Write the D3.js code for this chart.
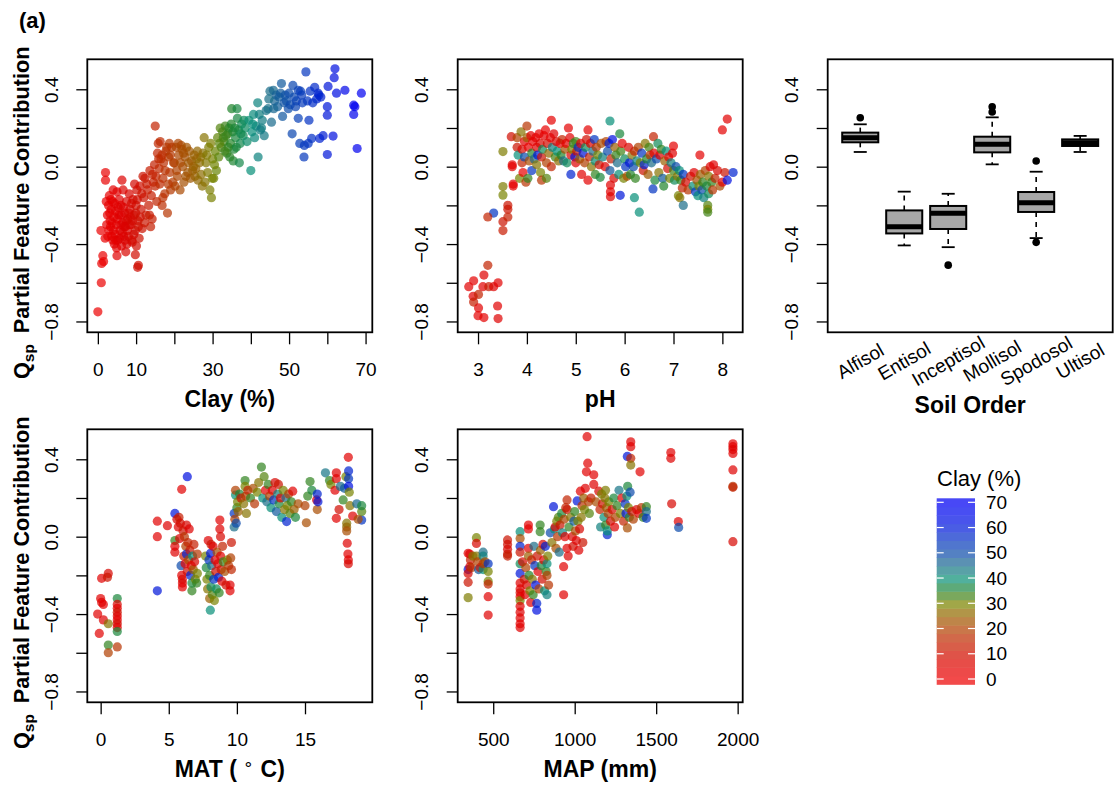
<!DOCTYPE html>
<html lang="en">
<head>
<meta charset="utf-8">
<script src="https://cdnjs.cloudflare.com/ajax/libs/d3/7.8.5/d3.min.js"></script>
<style>
body { margin: 0; background: #fff; }
text { font-family: "Liberation Sans", Arial, Helvetica, sans-serif; fill: #000; }
.tick line { stroke: #000; stroke-width: 1.3px; }
.frame { fill: none; stroke: #000; stroke-width: 1.8px; }
</style>
</head>
<body>
<svg width="1116" height="787"></svg>
<script>
// ---- data ----
var yTicks = [0.4, 0.2, 0.0, -0.2, -0.4, -0.6, -0.8];
var yLabelled = [0.4, 0.0, -0.4, -0.8];

var clayStops = [0, 5, 10, 15, 20, 25, 30, 35, 40, 45, 50, 55, 60, 65, 70];
var clayColors = ["#f24a4a", "#ea4a48", "#de5448", "#d4644a", "#c8784a", "#b88e48", "#a0a848",
                  "#62a86a", "#50b0a0", "#5e98ac", "#5480c4", "#4e70d4", "#4a5ce4", "#4850f0", "#4848f6"];
var legendTicks = [0, 10, 20, 30, 40, 50, 60, 70];

// clay (%) vs Qsp
var clayPoints = [
  [0,-0.75],[0.9,-0.6],[1,-0.5],[1.3,-0.46],[1.5,-0.49],[0.8,-0.33],[1.9,-0.37],[2,-0.03],[2,-0.07],[5,-0.46],
  [6.3,-0.07],[7.3,-0.44],[9.8,-0.455],[10.6,-0.51],[10.4,-0.52],[15,0.21],[18.2,-0.24],
  [2.5,-0.25],[2.8,-0.2],[3,-0.15],[3.2,-0.28],[3.5,-0.22],[3.3,-0.31],[2.9,-0.33],[4,-0.12],[4.2,-0.26],
  [4.5,-0.35],[4.8,-0.3],[4.3,-0.4],[5.2,-0.38],[5.5,-0.25],[5.8,-0.33],[6,-0.2],[6.2,-0.41],[6.5,-0.29],
  [6.8,-0.36],[7,-0.24],[7.2,-0.31],[7.5,-0.18],[7.8,-0.27],[8,-0.36],[8.2,-0.14],[8.4,-0.22],[8.7,-0.3],
  [9,-0.39],[9.2,-0.17],[9.5,-0.25],[9.8,-0.33],[10,-0.2],[10.2,-0.12],[10.5,-0.28],[10.8,-0.37],[11,-0.1],
  [11.3,-0.22],[11.6,-0.32],[12,-0.16],[12.3,-0.06],[12.6,-0.25],[13,-0.12],[13.3,-0.2],[13.6,-0.02],[14,-0.15],
  [14.2,-0.27],[14.5,-0.08],[14.8,0.01],[15.2,-0.05],[15.4,-0.18],[15.6,0.07],[15.8,0.12],[16,-0.01],[3.8,-0.18],
  [5,-0.13],[6,-0.3],[7.6,-0.4],[8.5,-0.26],[2.3,-0.3],[3.6,-0.36],[4.6,-0.23],[5.6,-0.17],[6.6,-0.12],[9.6,-0.09],
  [11.8,-0.05],[13.8,-0.31],[16.3,0.13],[16.5,0.04],[17,-0.06],[17.5,-0.14],[16.8,-0.2],
  [2.2,-0.18],[2.6,-0.36],[3.1,-0.24],[3.4,-0.17],[3.7,-0.29],[4.1,-0.33],[4.4,-0.19],[4.7,-0.38],[5.1,-0.27],
  [5.3,-0.21],[5.7,-0.37],[6.1,-0.25],[6.4,-0.34],[6.7,-0.21],[7.1,-0.38],[7.4,-0.28],[7.7,-0.33],[8.1,-0.24],
  [8.3,-0.3],[8.8,-0.19],[9.1,-0.28],[9.4,-0.35],[9.9,-0.24],[10.3,-0.17],[10.6,-0.31],[11.1,-0.26],[11.5,-0.14],
  [12.2,-0.29],[12.8,-0.09],[13.5,-0.25],[14.3,-0.04],[15,-0.1],[15.9,0.04],[3.9,-0.38],[4.9,-0.42],[6.9,-0.31],
  [8.9,-0.38],[10.1,-0.41],
  [17.2,0.02],[17.8,0.08],[18.5,0.05],[18.8,-0.03],[19.3,0.1],[19.6,-0.08],[20,0.02],[20.5,0.1],[20.8,-0.05],
  [21.2,0.06],[21.5,-0.12],[21.8,0.11],[22.2,0.0],[22.5,-0.08],[22.8,0.05],[23.2,0.1],[23.5,-0.03],[23.9,0.08],
  [24.2,-0.06],[24.5,0.03],[19,-0.12],[20.2,-0.1],[18,0.1],[22,0.09],[17,-0.16],
  [16.8,0.06],[17.6,-0.02],[18.4,-0.09],[19,0.06],[19.8,0.02],[20.6,-0.02],[21,0.12],[21.6,0.02],[22.4,0.07],
  [23,-0.05],[23.7,0.02],[24.8,-0.02],[16.2,-0.09],[18.7,0.12],
  [25,0.0],[25.4,-0.05],[25.8,0.04],[26.2,-0.07],[26.6,0.02],[27,-0.04],[27.5,0.07],[27.8,0.15],[28,-0.08],
  [28.3,0.02],[28.7,-0.03],[29,0.1],[29.3,-0.12],[29.7,-0.16],[30,0.04],[30.3,-0.06],[30.7,0.08],[31,-0.02],
  [29.5,0.12],[26,0.08],[25.6,-0.01],[26.9,0.05],[27.3,-0.1],[28.5,0.06],[29.9,-0.06],[30.5,0.01],[25.2,0.06],
  [31.3,0.15],[31.6,0.05],[32,0.2],[32.3,0.1],[32.6,0.18],[33,0.13],[33.3,0.21],[33.7,0.07],[34,0.17],[34.3,0.2],
  [34.7,0.12],[35,0.3],[35.3,0.18],[35.6,0.09],[36,0.15],[36.4,0.3],[36.8,0.19],[37.2,0.12],[37.6,0.22],[38,0.16],
  [38.5,0.2],[39,0.13],[35.4,0.03],[37,0.02],[36.5,0.25],[34.5,0.05],
  [31.8,0.12],[32.8,0.15],[33.5,0.16],[34.1,0.1],[34.9,0.22],[35.8,0.2],[36.2,0.1],[37.4,0.17],[38.2,0.24],[33.2,0.08],
  [39.5,0.24],[40,-0.02],[40.3,0.18],[40.7,0.27],[41,0.15],[41.4,0.21],[41.8,0.33],[41.9,0.05],[42.2,0.27],
  [42.5,0.19],[43,0.24],[43.5,0.16],[44,0.29],[40.5,0.22],[42.8,0.2],
  [44.5,0.3],[45,0.39],[45.4,0.23],[45.9,0.395],[46.2,0.34],[46.6,0.37],[47,0.31],[47.4,0.36],[48,0.43],[48.3,0.26],
  [48.7,0.33],[49.3,0.34],[49.8,0.3],[50.3,0.32],[50.8,0.17],[51,0.42],[51.3,0.36],[51.7,0.31],[52.4,0.395],
  [52.4,0.25],[52.8,0.12],[44.7,0.35],[46,0.3],[47.8,0.38],[49,0.37],[50,0.38],[51.9,0.34],
  [53.3,0.37],[53.9,0.05],[54.4,0.49],[54.8,0.34],[55.2,0.24],[55.5,0.39],[55.9,0.146],[56.7,0.41],[57.2,0.35],
  [57.6,0.38],[58,0.146],[58.3,0.36],[58.9,0.16],[60,0.063],[60,0.266],[60,0.31],[60.2,0.415],[61.5,0.158],
  [61.8,0.46],[62,0.506],[62.4,0.38],[64.6,0.395],[66.9,0.318],[66.9,0.27],[67.2,0.31],[67.8,0.094],[68.9,0.38],
  [55,0.12],[53.5,0.33],[54,0.11],[53,0.39],[56.2,0.33],[57.8,0.37]
];

// pH vs Qsp, third value = clay (%)
var phPoints = [
  [2.81,-0.62,5],[2.91,-0.59,4],[2.9,-0.67,6],[2.91,-0.7,14],[3.01,-0.66,15],[3.01,-0.73,5],[3.0,-0.77,4],
  [3.12,-0.56,6],[3.1,-0.62,5],[3.12,-0.78,4],[3.2,-0.51,15],[3.22,-0.62,13],[3.32,-0.62,6],[3.41,-0.6,5],
  [3.4,-0.72,5],[3.41,-0.785,6],
  [3.32,-0.24,55],[3.2,-0.26,15],[3.51,0.078,29],[3.51,-0.103,29],[3.51,-0.147,30],[3.51,-0.284,12],[3.51,-0.33,13],
  [3.61,-0.2,12],[3.61,-0.22,12],[3.61,-0.26,14],[3.72,-0.09,5],[3.7,0.0,5],[3.68,0.155,10],[3.7,0.01,3],[3.72,-0.1,3],
  [3.8,0.1,12],[3.8,0.15,20],[3.82,0.06,40],[3.85,-0.06,30],[3.88,0.18,28],[3.9,0.02,15],[3.9,0.09,8],[3.92,-0.03,2],
  [3.95,0.13,5],[3.95,0.05,50],[3.98,-0.08,18],[4.0,0.21,18],[4.0,0.15,25],[4.02,-0.06,34],[4.03,0.1,3],[4.05,0.03,22],
  [4.08,0.16,5],[4.1,-0.02,55],[4.1,0.07,35],[4.12,0.13,2],[4.15,0.04,45],[4.18,0.15,4],[4.2,0.1,6],[4.2,0.01,28],
  [4.22,0.06,60],[4.25,0.17,3],[4.27,0.12,8],[4.28,-0.03,30],[4.3,-0.07,18],[4.3,0.05,12],[4.32,0.09,38],[4.35,0.16,5],
  [4.38,0.19,2],[4.4,0.02,20],[4.4,-0.06,32],[4.42,0.12,10],[4.45,0.07,26],[4.48,0.15,4],[4.5,0.24,3],[4.5,0.0,15],
  [4.52,0.1,42],[4.55,0.17,6],[4.58,0.05,33],[4.6,0.13,8],[4.62,0.08,40],[4.65,0.03,27],[4.68,0.12,4],[4.7,0.06,35],
  [4.72,0.14,15],[4.75,0.03,45],[4.78,0.09,22],[4.8,0.12,3],[4.82,0.02,38],[4.85,0.2,4],[4.88,0.15,5],[4.9,-0.04,58],
  [4.9,0.06,8],[4.92,0.09,30],[4.95,0.12,34],[4.98,0.05,62],[5.0,0.02,6],[5.0,0.13,33],[5.02,0.08,12],[5.05,0.1,55],
  [5.08,0.04,25],[5.1,0.12,4],[5.12,-0.04,5],[5.15,0.07,60],[5.18,0.02,20],[5.2,0.1,38],[5.22,0.14,10],[5.25,-0.07,4],
  [5.25,0.19,4],[5.28,0.05,15],[5.3,0.12,6],[5.32,0.0,28],[5.35,0.08,45],[5.38,0.14,55],[5.4,-0.04,34],[5.4,0.03,40],
  [5.42,0.1,18],[5.45,0.06,30],[5.48,0.01,12],[5.5,-0.055,36],[5.52,0.12,22],[5.55,0.05,42],
  [5.6,0.0,6],[5.62,0.13,20],[5.65,0.08,50],[5.68,0.12,58],[5.7,0.236,40],[5.7,-0.02,48],[5.71,-0.095,5],[5.71,-0.13,4],
  [5.71,-0.155,6],[5.72,0.04,14],[5.75,0.14,62],[5.78,-0.06,8],[5.8,0.1,25],[5.82,0.06,34],[5.85,0.02,45],[5.88,-0.04,40],
  [5.9,0.17,36],[5.91,-0.148,60],[5.92,0.08,33],[5.95,0.12,4],[5.98,-0.06,30],[6.0,0.04,38],[6.02,0.0,55],[6.05,-0.05,22],
  [6.08,0.1,8],[6.1,0.02,60],[6.12,-0.04,35],[6.15,0.06,28],[6.18,0.0,50],[6.2,-0.16,40],[6.2,0.08,15],[6.22,-0.06,34],
  [6.25,0.03,42],[6.28,0.1,20],[6.3,-0.235,40],[6.32,0.02,30],[6.35,0.07,55],[6.38,-0.02,12],[6.4,0.01,58],[6.42,0.12,28],
  [6.45,0.04,35],[6.48,-0.04,24],[6.5,0.1,33],[6.52,0.06,18],[6.55,0.02,45],[6.58,-0.115,55],[6.59,0.155,15],[6.6,0.07,6],
  [6.62,-0.07,36],[6.65,0.04,50],[6.68,0.12,38],[6.7,-0.03,28],[6.72,0.06,4],[6.75,0.09,34],[6.78,-0.06,48],[6.8,-0.1,35],
  [6.82,0.03,25],[6.85,0.08,40],[6.88,-0.01,10],[6.9,0.05,5],[6.92,-0.06,30],[6.95,0.02,42],[6.98,0.07,6],[7.0,0.107,4],
  [7.0,-0.02,33],[7.02,-0.07,38],[7.05,0.0,50],[7.08,-0.05,28],[7.1,-0.15,30],[7.12,-0.02,40],[7.13,-0.16,28],
  [7.15,-0.07,34],[7.18,-0.11,15],[7.2,-0.2,45],[7.2,-0.04,55],
  [7.25,-0.08,8],[7.3,-0.12,18],[7.35,-0.05,12],[7.4,-0.1,40],[7.42,-0.03,6],[7.45,-0.13,55],[7.48,-0.07,22],
  [7.5,-0.15,40],[7.52,-0.1,30],[7.54,0.06,4],[7.55,-0.04,25],[7.58,-0.12,50],[7.6,-0.08,34],[7.62,-0.16,42],
  [7.65,-0.02,20],[7.68,-0.1,36],[7.7,-0.2,32],[7.7,-0.22,30],[7.7,-0.235,33],[7.72,-0.05,28],[7.72,-0.14,38],
  [7.75,0.0,6],[7.78,-0.08,34],[7.8,-0.12,18],[7.82,0.01,5],[7.85,-0.06,15],[7.9,-0.02,8],[7.95,-0.1,22],[8.0,0.19,4],
  [8.0,-0.08,5],[8.05,-0.03,12],[8.1,0.246,5],[8.1,-0.07,62],[8.22,-0.03,58]
];

// MAT (deg C) vs Qsp, third value = clay (%)
var matPoints = [
  [-0.22,-0.4,5],[0,-0.32,5],[0.07,-0.34,6],[0.2,-0.35,4],[-0.1,-0.5,5],[0.2,-0.43,6],[0.07,-0.215,5],[0.56,-0.19,8],
  [0.5,-0.21,12],[0.56,-0.45,28],[0.56,-0.56,34],[0.56,-0.6,20],[1.22,-0.32,36],[1.22,-0.35,8],[1.22,-0.37,5],
  [1.22,-0.39,12],[1.22,-0.41,6],[1.22,-0.43,4],[1.22,-0.45,10],[1.22,-0.47,5],[1.22,-0.49,36],[1.22,-0.57,18],
  [4.16,0.08,5],[4.16,0.0,5],[4.16,-0.28,60],[4.9,0.057,6],[5.45,0.12,60],[5.45,-0.02,34],[5.45,-0.05,5],[5.45,-0.08,6],
  [5.95,0.245,5],[6.36,0.31,62],
  [5.6,0.09,8],[5.7,0.05,5],[5.75,0.1,14],[5.8,-0.01,6],[5.85,0.07,10],[5.9,-0.15,50],[5.95,-0.2,5],[6.0,-0.24,6],
  [6.0,-0.22,8],[6.0,-0.26,4],[6.05,0.03,12],[6.1,-0.1,14],[6.15,0.0,18],[6.2,-0.14,5],[6.25,-0.05,20],[6.3,-0.09,58],
  [6.3,0.06,8],[6.35,-0.18,10],[6.4,-0.03,15],[6.45,-0.12,22],[6.5,0.04,6],[6.55,-0.07,12],[6.6,-0.2,58],[6.65,-0.15,5],
  [6.7,-0.28,34],[6.7,-0.24,36],[6.75,-0.1,40],[6.8,-0.17,24],[6.85,-0.04,14],[6.9,-0.13,8],[6.95,-0.22,30],
  [7.05,-0.24,34],[7.1,-0.19,30],[7.1,-0.09,18],
  [7.7,-0.1,30],[7.75,-0.16,36],[7.8,-0.22,30],[7.85,-0.27,28],[7.9,-0.02,6],[7.95,-0.12,55],[8.0,-0.32,25],[8.0,-0.2,34],
  [8.05,-0.38,40],[8.07,-0.086,60],[8.1,-0.04,12],[8.1,-0.26,38],[8.15,-0.15,45],[8.2,-0.3,32],[8.25,-0.05,6],
  [8.3,-0.22,55],[8.35,-0.33,30],[8.4,-0.12,5],[8.45,-0.18,10],[8.5,-0.27,38],[8.55,-0.08,22],[8.6,-0.14,5],
  [8.65,-0.21,58],[8.7,-0.29,34],[8.75,0.086,5],[8.75,0.04,6],[8.8,0.0,8],[8.8,-0.1,5],[8.85,-0.17,12],[8.9,-0.23,6],
  [8.95,-0.05,15],[9.0,-0.13,34],[9.1,-0.18,22],[9.2,-0.25,10],[9.3,-0.12,30],[9.4,-0.15,18],[9.5,-0.28,5],[9.5,-0.25,6],
  [9.55,-0.11,20],[9.6,-0.03,12],[9.6,-0.17,16],
  [9.8,0.05,45],[9.8,0.12,55],[9.85,0.09,20],[9.9,0.215,40],[9.9,0.24,20],[9.95,0.07,50],[10.0,0.15,34],[10.05,0.18,30],
  [10.1,0.13,25],[10.2,0.22,36],[10.3,0.2,12],[10.5,0.17,28],[10.6,0.29,34],[10.6,0.26,30],[10.65,0.21,20],[10.7,0.12,28],
  [10.8,0.24,15],
  [11.0,0.2,34],[11.2,0.25,22],[11.3,0.17,18],[11.5,0.23,30],[11.6,0.28,28],[11.8,0.36,34],[11.9,0.2,40],[12.0,0.31,32],
  [12.1,0.24,5],[12.2,0.18,45],[12.3,0.27,34],[12.4,0.21,20],[12.5,0.15,40],[12.6,0.24,6],[12.7,0.19,55],[12.8,0.28,8],
  [12.9,0.13,48],[13.0,0.22,42],[13.05,0.27,12],[13.1,0.17,36],[13.2,0.2,4],[13.3,0.1,40],[13.4,0.24,30],[13.5,0.14,28],
  [13.6,0.2,45],[13.65,0.078,58],[13.7,0.16,30],[13.8,0.22,20],[13.9,0.12,32],[14.0,0.18,34],[14.1,0.235,5],
  [14.2,0.14,25],[14.3,0.1,36],[14.5,0.17,22],
  [15.0,0.16,20],[15.1,0.072,22],[15.2,0.21,34],[15.37,0.285,34],[15.5,0.24,36],[15.85,0.19,5],[15.9,0.14,22],
  [15.9,0.22,58],[15.95,0.18,60],[16.5,0.33,44],[16.8,0.29,34],[16.9,0.27,30],[17.2,0.24,5],[17.3,0.33,6],[17.3,0.3,5],
  [17.3,0.095,5],[17.5,0.14,10],[17.6,0.26,45],[17.8,0.19,34],[17.9,0.25,48],[18.0,0.31,30],[18.06,0.07,28],
  [18.06,0.05,26],[18.06,0.03,22],[18.1,-0.034,6],[18.15,-0.09,5],[18.18,-0.12,5],[18.18,-0.14,8],[18.18,0.41,5],
  [18.2,0.34,58],[18.2,0.3,55],[18.2,0.26,62],[18.25,0.23,30],[18.3,0.16,28],[18.5,0.107,6],[18.8,0.17,46],
  [19.16,0.086,55],[19.16,0.13,32],[19.16,0.16,36],[18.9,0.09,22]
];

// MAP (mm) vs Qsp, third value = clay (%)
var mapPoints = [
  [346,-0.315,29],[346,-0.236,12],[346,-0.17,60],[346,-0.19,8],[346,-0.086,5],[356,-0.155,6],[356,-0.09,6],
  [360,-0.12,14],[366,-0.16,18],[375,-0.1,28],[397,-0.005,30],[397,-0.035,8],[397,-0.1,28],[405,-0.13,20],
  [410,-0.17,48],[420,-0.16,12],[438,-0.08,45],[438,-0.1,42],[438,-0.17,40],[438,-0.14,18],[450,-0.13,22],
  [469,-0.14,55],[469,-0.18,30],[469,-0.23,30],[469,-0.245,15],[469,-0.31,5],[469,-0.405,6],
  [588,-0.017,12],[588,-0.04,10],[588,-0.065,8],[588,-0.09,12],[588,-0.1,14],
  [665,0.026,40],[665,-0.01,22],[665,-0.05,58],[665,-0.08,12],[665,-0.14,38],[665,-0.19,60],[665,-0.24,6],
  [665,-0.27,5],[665,-0.29,8],[665,-0.31,4],[665,-0.33,30],[665,-0.36,5],[665,-0.39,6],[665,-0.42,5],[665,-0.45,4],
  [665,-0.47,5],[680,-0.13,8],[690,-0.22,12],[695,-0.3,6],[700,-0.16,20],[705,-0.25,8],[716,0.06,5],[716,0.04,4],
  [716,-0.06,5],[716,-0.1,25],[720,-0.2,35],[725,-0.28,30],[730,-0.34,5],[735,-0.12,15],[740,-0.22,28],[745,-0.3,34],
  [750,-0.05,45],[755,-0.15,55],[760,-0.25,62],[767,-0.38,62],[767,-0.345,58],[770,-0.1,12],[775,-0.18,5],
  [780,-0.27,20],[788,0.06,34],[788,0.026,34],[790,-0.07,25],[795,-0.15,36],[800,-0.22,10],[805,-0.04,8],
  [810,-0.12,6],[815,-0.28,40],[820,-0.05,58],[825,-0.18,34],[830,-0.14,40],[830,-0.2,20],[830,-0.3,42],
  [835,-0.1,30],[840,-0.25,18],
  [850,0.02,50],[860,-0.03,28],[870,0.155,60],[875,0.04,40],[880,0.05,5],[885,-0.06,22],[890,0.08,30],[895,0.0,18],
  [900,0.1,32],[905,-0.08,45],[910,0.06,12],[920,0.12,36],[925,0.02,42],[932,-0.155,5],[932,-0.3,5],[935,0.09,20],
  [940,0.0,6],[945,0.15,15],[953,-0.06,5],[953,0.14,12],[953,0.19,15],[960,-0.1,6],[965,0.05,34],[975,0.1,28],
  [985,0.0,8],[990,-0.05,10],[995,0.08,48],[1000,0.13,34],[1005,0.03,22],[1010,-0.02,6],[1015,0.185,60],
  [1020,0.08,30],[1025,-0.07,6],[1030,0.04,8],[1035,0.235,5],[1040,0.1,28],[1045,0.16,18],[1050,-0.03,12],
  [1055,0.2,25],[1060,0.14,30],[1065,0.25,6],[1072,0.335,5],[1076,0.517,5],[1080,0.38,5],[1085,0.18,20],
  [1090,0.12,32],[1100,0.2,14],[1117,0.32,5],[1117,0.27,6],[1130,0.18,22],
  [1148,0.235,8],[1155,0.14,15],[1159,0.05,42],[1165,0.22,30],[1170,0.17,12],[1180,0.1,40],[1185,0.2,28],
  [1189,0.24,29],[1190,0.06,34],[1195,0.15,25],[1200,0.01,58],[1200,0.03,40],[1205,0.12,20],[1210,0.18,30],
  [1220,0.08,10],[1230,0.14,8],[1240,0.2,36],[1245,0.05,6],[1250,0.1,20],[1260,0.16,34],[1272,0.24,44],
  [1280,0.12,30],[1290,0.2,5],[1300,0.08,15],[1310,0.17,55],[1315,0.12,60],[1320,0.21,40],[1323,0.415,60],
  [1323,0.045,22],[1325,0.26,36],[1330,0.15,30],[1335,0.1,34],[1340,0.23,50],[1344,0.49,5],[1344,0.465,5],
  [1344,0.405,15],[1344,0.37,28],[1350,0.13,12],[1360,0.09,20],[1380,0.14,8],[1395,0.12,6],[1401,0.335,5],
  [1410,0.15,18],[1420,0.1,34],[1440,0.155,34],[1440,0.13,45],[1440,0.095,55],
  [1590,0.435,5],[1590,0.405,6],[1595,0.17,8],[1636,0.078,6],[1638,0.048,50],[1971,0.48,5],[1971,0.465,4],
  [1971,0.45,6],[1971,0.43,5],[1971,0.345,6],[1971,0.26,18],[1971,0.255,15],[1971,-0.026,8]
];

// soil order box plots
var soilOrders = ["Alfisol", "Entisol", "Inceptisol", "Mollisol", "Spodosol", "Ultisol"];
var boxLow  = [0.076, -0.407, -0.416, 0.012, -0.369, 0.076];
var boxQ1   = [0.126, -0.345, -0.322, 0.074, -0.234, 0.107];
var boxMed  = [0.150, -0.310, -0.241, 0.116, -0.186, 0.124];
var boxQ3   = [0.176, -0.226, -0.203, 0.155, -0.131, 0.141];
var boxHigh = [0.219, -0.129, -0.140, 0.255, -0.026, 0.159];
var boxOutliers = [[0, 0.253], [2, -0.509], [3, 0.31], [3, 0.283], [4, 0.029], [4, -0.391]];

// ---- layout ----
var svg = d3.select("svg");
var rows = [[59.3, 332.3], [429.3, 702.3]];
var cols = [[87.3, 372.3], [457.7, 742.7], [827.7, 1112.7]];
var yDomain = [-0.856, 0.555];

var clayScale = d3.scaleLinear().domain(clayStops).range(clayColors).clamp(true);
// colours in the legend are the blended look of alpha 0.7 points on white
function solid(c) {
  var r = d3.rgb(c);
  var f = function(v) { return Math.max(0, Math.min(255, (v - 0.3 * 255) / 0.7)); };
  return d3.rgb(f(r.r), f(r.g), f(r.b)).formatHex();
}

function minus(v) { return v < 0 ? "\u2212" + d3.format(".1f")(-v) : d3.format(".1f")(v); }

function frame(col, row) {
  var c = cols[col], r = rows[row];
  var y = d3.scaleLinear().domain(yDomain).range([r[1], r[0]]);
  var yAxis = svg.append("g")
      .attr("transform", "translate(" + c[0] + ",0)")
      .call(d3.axisLeft(y).tickValues(yTicks).tickSize(11)
        .tickFormat(function(d) { return yLabelled.indexOf(d) >= 0 ? minus(d) : ""; }));
  yAxis.select(".domain").remove();
  yAxis.selectAll("text")
      .attr("x", 0).attr("y", 0)
      .attr("dy", "0.35em")
      .attr("text-anchor", "middle")
      .attr("transform", "translate(-36,0) rotate(-90)")
      .style("font-size", "19px");
  return y;
}

function box(col, row) {
  var c = cols[col], r = rows[row];
  svg.append("rect").attr("class", "frame")
      .attr("x", c[0]).attr("y", r[0])
      .attr("width", c[1] - c[0]).attr("height", r[1] - r[0]);
}

function xTitle(col, row, parts) {
  var c = cols[col], r = rows[row];
  var t = svg.append("text")
      .attr("x", (c[0] + c[1]) / 2).attr("y", r[1] + 67)
      .attr("dy", "0.35em")
      .attr("text-anchor", "middle")
      .style("font-size", "23px").style("font-weight", "bold");
  parts(t);
}

function scatter(col, row, xDomain, xTicks, xLabels, points, clayOf, title) {
  var c = cols[col], r = rows[row];
  var x = d3.scaleLinear().domain(xDomain).range([c[0], c[1]]);
  var y = frame(col, row);

  var xAxis = svg.append("g")
      .attr("transform", "translate(0," + r[1] + ")")
      .call(d3.axisBottom(x).tickValues(xTicks).tickSize(12)
        .tickFormat(function(d) { return xLabels.indexOf(d) >= 0 ? String(d) : ""; }));
  xAxis.select(".domain").remove();
  xAxis.selectAll("text").attr("y", 37).attr("dy", "0.35em").style("font-size", "19px");

  svg.append("g").selectAll("circle")
    .data(points)
    .enter().append("circle")
      .attr("cx", function(d) { return x(d[0]); })
      .attr("cy", function(d) { return y(d[1]); })
      .attr("r", 4.6)
      .attr("fill", function(d) { return solid(clayScale(clayOf(d))); })
      .attr("fill-opacity", 0.7);

  box(col, row);
  xTitle(col, row, title);
}

function yTitle(row) {
  var r = rows[row];
  var cy = (r[0] + r[1]) / 2 + 17;
  var t = svg.append("text")
      .attr("transform", "translate(21," + cy + ") rotate(-90)")
      .attr("text-anchor", "middle")
      .attr("dy", "0.35em")
      .style("font-size", "21.7px").style("font-weight", "bold");
  t.append("tspan").text("Q");
  t.append("tspan").attr("dy", "5").style("font-size", "15.5px").text("sp");
  t.append("tspan").attr("dy", "-5").text("\u2002Partial Feature Contribution");
}

// (a)
svg.append("text").attr("x", 19).attr("y", 28)
    .style("font-size", "22px").style("font-weight", "bold").text("(a)");

scatter(0, 0, [-2.76, 71.76], [0, 10, 20, 30, 40, 50, 60, 70], [0, 10, 30, 50, 70],
  clayPoints, function(d) { return d[0]; },
  function(t) { t.text("Clay (%)"); });

scatter(1, 0, [2.584, 8.416], [3, 4, 5, 6, 7, 8], [3, 4, 5, 6, 7, 8],
  phPoints, function(d) { return d[2]; },
  function(t) { t.text("pH"); });

scatter(0, 1, [-0.98, 19.94], [0, 5, 10, 15], [0, 5, 10, 15],
  matPoints, function(d) { return d[2]; },
  function(t) {
    t.append("tspan").text("MAT ( ");
    t.append("tspan").attr("dy", "-8").style("font-weight", "normal").style("font-size", "17px").text("\u2218");
    t.append("tspan").attr("dy", "8").text(" C)");
  });

scatter(1, 1, [282, 2031], [500, 1000, 1500, 2000], [500, 1000, 1500, 2000],
  mapPoints, function(d) { return d[2]; },
  function(t) { t.text("MAP (mm)"); });

yTitle(0);
yTitle(1);

// ---- soil order box plots ----
(function() {
  var c = cols[2], r = rows[0];
  var y = frame(2, 0);
  var x = d3.scaleLinear().domain([0.26, 6.74]).range([c[0], c[1]]);
  var bw = 0.82 * (x(1) - x(0));
  var cap = 13;
  var g = svg.append("g");
  soilOrders.forEach(function(name, i) {
    var cx = x(i + 1);
    g.append("line").attr("x1", cx).attr("x2", cx).attr("y1", y(boxQ3[i])).attr("y2", y(boxHigh[i]))
      .attr("stroke", "#000").attr("stroke-width", 1.6).attr("stroke-dasharray", "5,5");
    g.append("line").attr("x1", cx).attr("x2", cx).attr("y1", y(boxQ1[i])).attr("y2", y(boxLow[i]))
      .attr("stroke", "#000").attr("stroke-width", 1.6).attr("stroke-dasharray", "5,5");
    [boxHigh[i], boxLow[i]].forEach(function(v) {
      g.append("line").attr("x1", cx - cap / 2).attr("x2", cx + cap / 2).attr("y1", y(v)).attr("y2", y(v))
        .attr("stroke", "#000").attr("stroke-width", 1.8);
    });
    g.append("rect").attr("x", cx - bw / 2).attr("width", bw)
      .attr("y", y(boxQ3[i])).attr("height", y(boxQ1[i]) - y(boxQ3[i]))
      .attr("fill", "#a8a8a8").attr("stroke", "#000").attr("stroke-width", 2);
    g.append("line").attr("x1", cx - bw / 2).attr("x2", cx + bw / 2).attr("y1", y(boxMed[i])).attr("y2", y(boxMed[i]))
      .attr("stroke", "#000").attr("stroke-width", 5);
    svg.append("text")
      .attr("transform", "translate(" + cx + ",361) rotate(-30)")
      .attr("text-anchor", "middle").attr("dy", "0.35em")
      .style("font-size", "19px").text(name);
  });
  g.selectAll("circle.out").data(boxOutliers).enter().append("circle")
    .attr("cx", function(d) { return x(d[0] + 1); })
    .attr("cy", function(d) { return y(d[1]); })
    .attr("r", 3.8).attr("fill", "#000");
  box(2, 0);
  svg.append("text").attr("x", (c[0] + c[1]) / 2).attr("y", 405).attr("dy", "0.35em")
    .attr("text-anchor", "middle").style("font-size", "23px").style("font-weight", "bold").text("Soil Order");
})();

// ---- clay legend ----
(function() {
  var ly = d3.scaleLinear().domain([0, 70]).range([679, 502.3]);
  var x0 = 936.7, x1 = 975;
  var nb = 22;
  var lo = ly.invert(684.3), hi = ly.invert(498.3);
  var bands = d3.range(nb).map(function(i) { return [lo + (hi - lo) * i / nb, lo + (hi - lo) * (i + 1) / nb]; });
  svg.append("g").selectAll("rect").data(bands).enter().append("rect")
    .attr("x", x0).attr("width", x1 - x0)
    .attr("y", function(d) { return ly(d[1]); })
    .attr("height", function(d) { return ly(d[0]) - ly(d[1]) + 0.5; })
    .attr("fill", function(d) { return clayScale((d[0] + d[1]) / 2); });
  var tg = svg.append("g");
  legendTicks.forEach(function(v) {
    tg.append("line").attr("x1", x0).attr("x2", x0 + 7).attr("y1", ly(v)).attr("y2", ly(v))
      .attr("stroke", "#fff").attr("stroke-width", 1.2);
    tg.append("line").attr("x1", x1 - 7).attr("x2", x1).attr("y1", ly(v)).attr("y2", ly(v))
      .attr("stroke", "#fff").attr("stroke-width", 1.2);
    tg.append("text").attr("x", 986).attr("y", ly(v)).attr("dy", "0.35em")
      .style("font-size", "19px").text(v);
  });
  svg.append("text").attr("x", 937).attr("y", 478).attr("dy", "0.35em")
    .style("font-size", "22px").text("Clay (%)");
})();
</script>
</body>
</html>
